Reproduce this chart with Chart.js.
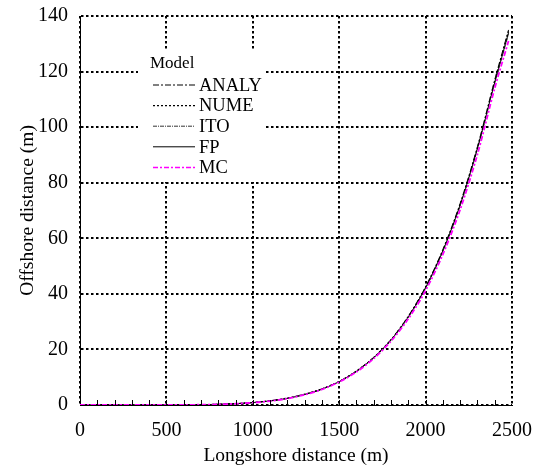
<!DOCTYPE html>
<html>
<head>
<meta charset="utf-8">
<script src="https://cdn.jsdelivr.net/npm/chart.js@4.4.1/dist/chart.umd.min.js"></script>
<style>
  body { margin: 0; background: #fff; }
  #wrap { width: 544px; height: 469px; }
</style>
</head>
<body>
<div id="wrap"><canvas id="grafico"></canvas></div>
<script>
// longshore distance (m)
const distancia = [0, 200, 400, 500, 600, 700, 800, 900, 1000, 1100, 1200, 1300, 1400, 1500, 1600, 1700, 1800, 1900, 2000, 2100, 2200, 2300, 2400, 2480];

// offshore distance (m) per model
const analy = [0, 0, 0, 0.02, 0.05, 0.11, 0.24, 0.47, 0.85, 1.5, 2.4, 3.8, 5.8, 8.5, 12.3, 17.2, 23.6, 32.0, 42.6, 56.0, 72.6, 93.0, 117, 135];
const nume  = [0, 0, 0, 0.03, 0.06, 0.12, 0.26, 0.5, 0.9, 1.5, 2.5, 3.9, 5.8, 8.5, 12.2, 17.1, 23.5, 31.8, 42.3, 55.6, 72.1, 92.5, 116.5, 134.5];
const ito   = [0, 0, 0, 0.03, 0.05, 0.12, 0.25, 0.49, 0.88, 1.5, 2.4, 3.8, 5.7, 8.4, 12.1, 17.0, 23.3, 31.6, 42.0, 55.3, 71.8, 92.0, 116, 133.5];
const fp    = [0, 0, 0, 0.03, 0.05, 0.12, 0.25, 0.48, 0.87, 1.5, 2.4, 3.8, 5.7, 8.4, 12.1, 17.0, 23.4, 31.7, 42.2, 55.5, 72.0, 92.4, 116, 134];
const mc    = [0, 0, 0, 0.02, 0.04, 0.1, 0.22, 0.45, 0.82, 1.4, 2.3, 3.7, 5.6, 8.3, 11.9, 16.7, 23.0, 31.0, 41.2, 54.2, 70.3, 90.2, 114, 131];

const modelos = ['ANALY', 'NUME', 'ITO', 'FP', 'MC'];
const xTicks = [0, 500, 1000, 1500, 2000, 2500];
const yTicks = [0, 20, 40, 60, 80, 100, 120, 140];

function pontos(ys) {
    return distancia.map((d, i) => ({ x: d, y: ys[i] }));
}

const serif = 'Liberation Serif, Times New Roman, serif';

// small inward ticks along the bottom axis every 100 m
const minorTicks = {
    id: 'minorTicks',
    afterDraw(chart) {
        const { ctx, scales: { x }, chartArea } = chart;
        ctx.save();
        ctx.strokeStyle = '#000';
        ctx.lineWidth = 1;
        for (let v = 100; v < 2500; v += 100) {
            const px = Math.round(x.getPixelForValue(v)) + 0.5;
            ctx.beginPath();
            ctx.moveTo(px, chartArea.bottom);
            ctx.lineTo(px, chartArea.bottom - 5);
            ctx.stroke();
        }
        ctx.restore();
    }
};

// legend box inside the plot, top-left
const legendaModelo = {
    id: 'legendaModelo',
    afterDatasetsDraw(chart) {
        const ctx = chart.ctx;
        ctx.save();
        ctx.fillStyle = '#fff';
        ctx.fillRect(138, 50, 128, 132);
        ctx.fillStyle = '#000';
        ctx.textBaseline = 'middle';
        ctx.font = '17px ' + serif;
        ctx.fillText('Model', 150, 64);
        ctx.font = '18.5px ' + serif;
        chart.data.datasets.forEach((ds, i) => {
            const y = 85 + i * 20.6;
            ctx.save();
            ctx.strokeStyle = ds.borderColor;
            ctx.lineWidth = Math.min(ds.borderWidth, 1.5);
            ctx.setLineDash(ds.borderDash || []);
            ctx.beginPath();
            ctx.moveTo(153, y);
            ctx.lineTo(195, y);
            ctx.stroke();
            ctx.restore();
            ctx.fillStyle = '#000';
            ctx.fillText(ds.label, 199, y + 1);
        });
        ctx.restore();
    }
};

const grafico = new Chart(document.getElementById('grafico'), {
    type: 'line',
    data: {
        datasets: [
            { label: modelos[0], data: pontos(analy), borderColor: '#000', borderWidth: 1, borderDash: [6, 2, 2, 2] },
            { label: modelos[1], data: pontos(nume), borderColor: '#000', borderWidth: 1.2, borderDash: [2, 2] },
            { label: modelos[2], data: pontos(ito), borderColor: '#333', borderWidth: 1, borderDash: [4, 1, 1, 1] },
            { label: modelos[3], data: pontos(fp), borderColor: '#000', borderWidth: 1, borderDash: [] },
            { label: modelos[4], data: pontos(mc), borderColor: '#ff00ff', borderWidth: 1.8, borderDash: [5, 2, 2, 2], order: -1 }
        ]
    },
    options: {
        responsive: true,
        maintainAspectRatio: false,
        animation: false,
        layout: { padding: { top: 16, right: 32, left: 0, bottom: 0 } },
        elements: { point: { radius: 0 }, line: { tension: 0.3, fill: false } },
        plugins: { legend: { display: false }, tooltip: { enabled: false } },
        scales: {
            x: {
                type: 'linear',
                min: 0,
                max: 2500,
                afterBuildTicks: s => { s.ticks = xTicks.map(v => ({ value: v })); },
                afterFit: s => { s.height = 64; s.paddingLeft = 0; s.paddingRight = 0; },
                ticks: { color: '#000', font: { family: serif, size: 20 }, padding: 14, maxRotation: 0, callback: v => String(v) },
                grid: { color: '#000', lineWidth: 2, drawTicks: false },
                border: { display: true, color: '#000', width: 1, dash: [2.5, 2.5] },
                title: { display: true, text: 'Longshore distance (m)', color: '#000', font: { family: serif, size: 19.5 }, padding: { top: 0, bottom: 1 } }
            },
            y: {
                min: 0,
                max: 140,
                afterBuildTicks: s => { s.ticks = yTicks.map(v => ({ value: v })); },
                afterFit: s => { s.width = 80; s.paddingTop = 0; s.paddingBottom = 0; },
                ticks: { color: '#000', font: { family: serif, size: 20 }, padding: 12, callback: v => String(v) },
                grid: { color: '#000', lineWidth: 2, drawTicks: false },
                border: { display: true, color: '#000', width: 1, dash: [2.5, 2.5] },
                title: { display: true, text: 'Offshore distance (m)', color: '#000', font: { family: serif, size: 19.5 }, padding: { top: 16, bottom: 0 } }
            }
        }
    },
    plugins: [minorTicks, legendaModelo]
});
</script>
</body>
</html>
